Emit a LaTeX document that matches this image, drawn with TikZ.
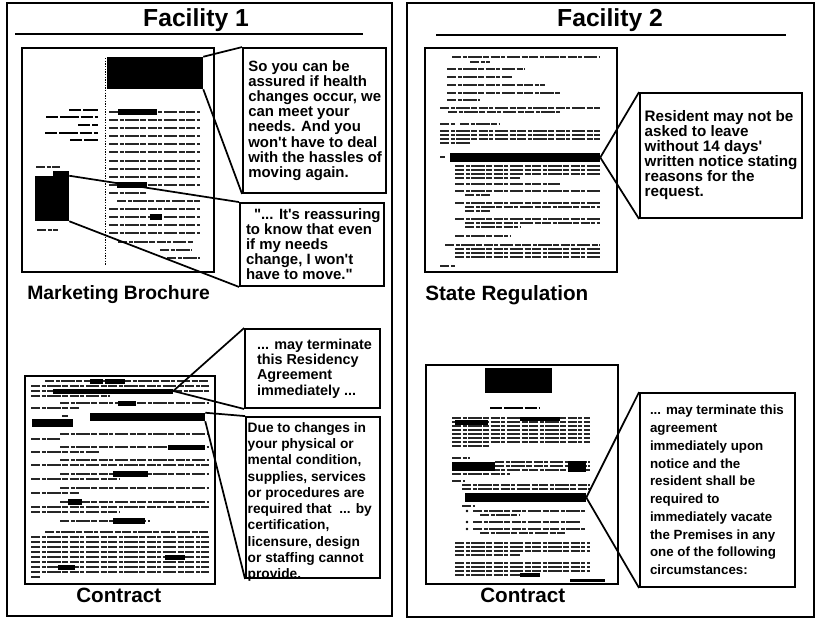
\documentclass[tikz,border=0pt]{standalone}
\usepackage{fontspec}
\setmainfont{Liberation Sans}[Ligatures=TeXOff]
\usetikzlibrary{fit}
\begin{document}
\begin{tikzpicture}[x=0.75pt,y=-0.75pt,
 panel/.style={draw, line width=1.1pt, inner sep=0pt},
 doc/.style={draw, line width=1.4pt, inner sep=0pt},
 callbox/.style={draw, line width=1.4pt, inner sep=0pt},
 calltext/.style={anchor=west, align=left, inner sep=0pt},
 redact/.style={fill=black, inner sep=0pt},
 conn/.style={line width=1.3pt},
 txt/.style={line width=1.2pt, black!85, dash pattern=on 7pt off 1.1pt on 3pt off 1.1pt on 10pt off 1.1pt on 4.5pt off 1.1pt},
 hdtxt/.style={line width=1.9pt, black, dash pattern=on 9pt off 1.5pt on 14pt off 1.5pt},
 facttitle/.style={font=\bfseries\fontsize{18.5}{22}\selectfont, inner sep=0pt, anchor=base},
 doclabel/.style={font=\bfseries\fontsize{15.5}{18}\selectfont, inner sep=0pt, anchor=base west},
 uline/.style={line width=1.7pt}
]
\useasboundingbox (0,0) rectangle (817,619);
\fill[white] (0,0) rectangle (817,619);

% panels
\node[panel, fit={(7,3)(392,616)}] (P1) {};
\node[panel, fit={(407,3)(814,617)}] (P2) {};

% titles
\node[facttitle] (T1) at (196,26) {Facility 1};
\coordinate (u1a) at (15,34); \coordinate (u1b) at (363,34);
\draw[uline] (u1a) -- (u1b);
\node[facttitle] (T2) at (610,26) {Facility 2};
\coordinate (u2a) at (436,35); \coordinate (u2b) at (786,35);
\draw[uline] (u2a) -- (u2b);

% ---------------- Doc A : brochure
\node[doc, fit={(22,48)(214,272)}] (docA) {};
\node[redact, fit={(107,57)(203,89)}] (hA) {};
\node[redact, fit={(35,176)(69,221)}] (qA) {};
\fill (53,171) rectangle (69,177);
\draw[line width=0.6pt, dash pattern=on 1pt off 1pt] (105,58) -- (105,265);
\foreach \a/\b/\y in {69/98/110, 46/98/117, 78/98/125, 45/98/133, 70/98/140}
  \draw[hdtxt] (\a,\y) -- (\b,\y);
\foreach \a/\b/\y in {109/200/112, 109/200/120, 109/200/128, 109/200/136, 109/200/144,
  109/200/152, 109/200/161, 109/200/169, 109/200/177, 109/200/185, 109/147/193,
  117/200/201, 109/200/209, 109/200/217, 109/200/225, 109/200/233, 118/193/242,
  160/192/250, 167/200/258, 36/60/167, 37/58/230}
  \draw[txt] (\a,\y) -- (\b,\y);
\fill (118,109) rectangle (157,115);
\fill (117,182) rectangle (147,188);
\fill (150,214) rectangle (162,220);

% ---------------- Doc B : contract (left)
\node[doc, fit={(25,376)(215,584)}] (docB) {};
\foreach \a/\b/\y in {45/209/381, 31/209/386, 31/53/391, 173/209/391, 31/110/396,
  60/209/403, 31/80/408, 62/68/416,
  60/209/434, 31/60/439, 60/209/447, 31/100/452, 60/209/460, 31/209/465,
  60/209/474, 31/120/479, 60/209/488, 31/80/493, 60/209/502, 31/209/507, 31/120/512,
  60/150/521, 45/209/532, 31/209/537, 31/209/542, 31/209/547, 31/209/552, 31/209/557,
  31/209/562, 31/209/567, 31/209/572, 31/40/577}
  \draw[txt] (\a,\y) -- (\b,\y);
\fill (90,379) rectangle (103,384);
\fill (105,379) rectangle (125,384);
\fill (118,401) rectangle (136,406);
\fill (168,445) rectangle (205,450);
\fill (113,471) rectangle (148,477);
\fill (68,499) rectangle (82,505);
\fill (113,518) rectangle (145,524);
\fill (165,555) rectangle (185,560);
\fill (58,565) rectangle (75,570);
\node[redact, fit={(53,388.5)(173,393.5)}] (rB1) {};
\node[redact, fit={(90,413)(205,421)}] (rB2) {};
\fill (32,419) rectangle (73,427);

% ---------------- Doc C : state regulation
\node[doc, fit={(425,48)(617,272)}] (docC) {};
\foreach \a/\b/\y in {452/600/57, 470/490/62, 447/525/69, 447/512/77, 447/545/85,
  447/560/93, 447/480/100, 440/600/108, 448/560/112, 440/455/124, 460/500/124,
  440/600/131, 440/600/135, 440/600/139, 440/470/143, 440/445/157,
  455/600/166, 455/600/170, 455/600/174, 455/520/178, 455/560/184, 455/600/191,
  465/490/195, 455/600/203, 465/600/207, 465/490/211, 455/600/219, 465/600/223,
  465/520/227, 455/510/236, 445/600/245, 455/600/249, 455/600/253, 455/600/257,
  440/455/266}
  \draw[txt] (\a,\y) -- (\b,\y);
\node[redact, fit={(450,153)(600,162)}] (rC) {};

% ---------------- Doc D : contract (right)
\node[doc, fit={(426,365)(618,584)}] (docD) {};
\node[redact, fit={(485,368)(552,393)}] (hD) {};
\draw[hdtxt] (490,408) -- (540,408);
\foreach \a/\b/\y in {452/590/418, 452/590/422, 452/590/426, 452/590/430, 452/590/434,
  452/590/438, 452/590/442, 452/490/446, 452/470/458, 495/590/462, 495/590/466,
  452/590/470, 452/510/474, 452/465/481, 462/590/485, 462/590/489, 462/475/506,
  473/585/511, 480/520/515, 473/580/522, 473/585/529, 480/565/533,
  455/590/543, 455/590/547, 455/590/551, 455/520/555,
  455/590/563, 455/590/567, 455/590/571, 455/520/575}
  \draw[txt] (\a,\y) -- (\b,\y);
\fill (455,420) rectangle (488,425);
\fill (520,417) rectangle (560,421);
\fill (452,462) rectangle (495,471);
\fill (568,461) rectangle (586,472);
\fill (520,573) rectangle (540,577);
\fill (570,579) rectangle (605,582);
\foreach \y in {511,522,529} \fill (467,\y) circle (1.3);
\node[redact, fit={(465,493)(586,502)}] (rD) {};

% ---------------- labels
\node[doclabel, font=\bfseries\fontsize{14.5}{17}\selectfont] (LA) at (27,299) {Marketing Brochure};
\node[doclabel] (LB) at (76,602) {Contract};
\node[doclabel] (LC) at (425,300) {State Regulation};
\node[doclabel] (LD) at (480,602) {Contract};

% ---------------- callouts
\node[callbox, fit={(243,48)(386,193)}] (A1) {};
\node[calltext, font=\bfseries\fontsize{11.2}{11.4}\selectfont] (A1t) at ([xshift=4.5pt]A1.west)
 {So you can be\\assured if health\\changes occur, we\\can meet your\\needs. And you\\won't have to deal\\with the hassles of\\moving again.};

\node[callbox, fit={(240,203)(384,286)}] (A2) {};
\node[calltext, font=\bfseries\fontsize{11.2}{11.25}\selectfont] (A2t) at ([xshift=5pt]A2.west)
 {\hspace*{6pt}"... It's reassuring\\to know that even\\if my needs\\change, I won't\\have to move."};

\node[callbox, fit={(245,329)(380,408)}] (B1) {};
\node[calltext, font=\bfseries\fontsize{10.8}{11.6}\selectfont] (B1t) at ([xshift=9.5pt]B1.west)
 {... may terminate\\this Residency\\Agreement\\immediately ...};

\node[callbox, fit={(246,417)(380,578)}] (B2) {};
\node[calltext, anchor=north west, font=\bfseries\fontsize{10.3}{12.2}\selectfont] (B2t) at ([xshift=1.8pt,yshift=-4.5pt]B2.north west)
 {Due to changes in\\your physical or\\mental condition,\\supplies, services\\or procedures are\\required that\ \ ... by\\certification,\\licensure, design\\or staffing cannot\\provide.};

\node[callbox, fit={(640,93)(802,218)}] (C1) {};
\node[calltext, font=\bfseries\fontsize{11.4}{11.25}\selectfont] (C1t) at ([xshift=4pt]C1.west)
 {Resident may not be\\asked to leave\\without 14 days'\\written notice stating\\reasons for the\\request.};

\node[callbox, fit={(640,393)(795,587)}] (D1) {};
\node[calltext, font=\bfseries\fontsize{10}{13.3}\selectfont] (D1t) at ([xshift=8pt]D1.west)
 {... may terminate this\\agreement\\immediately upon\\notice and the\\resident shall be\\required to\\immediately vacate\\the Premises in any\\one of the following\\circumstances:};

% ---------------- connectors
\draw[conn] (hA.north east) -- (A1.north west);
\draw[conn] (hA.south east) -- (A1.south west);
\draw[conn] (qA.north east) -- (A2.north west);
\draw[conn] (qA.south east) -- (A2.south west);
\draw[conn] (rB1.east) -- (B1.north west);
\draw[conn] (rB1.east) -- (B1.south west);
\draw[conn] (rB2.north east) -- (B2.north west);
\draw[conn] (rB2.south east) -- (B2.south west);
\draw[conn] (rC.east) -- (C1.north west);
\draw[conn] (rC.east) -- (C1.south west);
\draw[conn] (rD.east) -- (D1.north west);
\draw[conn] (rD.east) -- (D1.south west);
\end{tikzpicture}
\end{document}
